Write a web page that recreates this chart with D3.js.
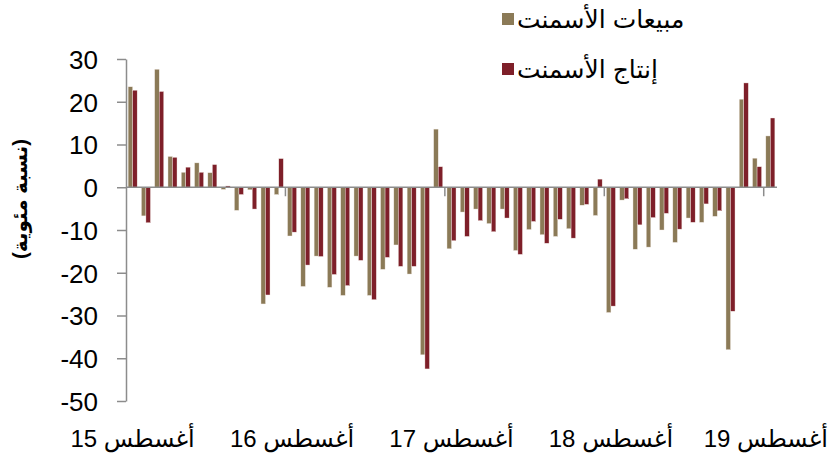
<!DOCTYPE html>
<html>
<head>
<meta http-equiv='Content-Type' content='text/html;charset=utf-8'/>
<title>Cement</title>
<script src='https://d3js.org/d3.v7.min.js'></script>
<style>
  body { margin: 0; background: #fff; }
  text { font-family: 'Liberation Sans', Arial, 'DejaVu Sans', sans-serif; }
</style>
</head>
<body>
<script>
'use strict';
// months Aug 2015 .. Aug 2019
const months = [
  '2015-08','2015-09','2015-10','2015-11','2015-12','2016-01','2016-02','2016-03','2016-04','2016-05','2016-06','2016-07',
  '2016-08','2016-09','2016-10','2016-11','2016-12','2017-01','2017-02','2017-03','2017-04','2017-05','2017-06','2017-07',
  '2017-08','2017-09','2017-10','2017-11','2017-12','2018-01','2018-02','2018-03','2018-04','2018-05','2018-06','2018-07',
  '2018-08','2018-09','2018-10','2018-11','2018-12','2019-01','2019-02','2019-03','2019-04','2019-05','2019-06','2019-07',
  '2019-08'
];
// cement sales, y/y %
const sales = [
  23.5, -6.7, 27.6, 7.2, 3.5, 5.7, 3.4, -0.5, -5.4, -0.6, -27.3, -1.7,
  -11.4, -23.2, -16.1, -23.4, -25.3, -16.1, -25.3, -19.2, -13.5, -20.3, -39.2, 13.6,
  -14.4, -5.8, -5.1, -8.5, -5.1, -14.8, -9.9, -11.1, -11.5, -9.7, -4.2, -6.6,
  -29.3, -3.0, -14.5, -14.0, -10.0, -12.9, -7.2, -8.2, -6.8, -38.0, 20.6, 6.8,
  12.0
];
// cement production, y/y %
const production = [
  22.7, -8.3, 22.4, 7.0, 4.7, 3.5, 5.3, 0.3, -1.7, -5.1, -25.2, 6.7,
  -10.5, -18.2, -16.2, -20.4, -23.0, -17.1, -26.3, -16.4, -18.5, -18.5, -42.5, 4.8,
  -12.5, -11.5, -7.8, -10.4, -7.2, -15.7, -8.0, -13.1, -7.5, -11.9, -4.0, 1.9,
  -27.8, -2.7, -8.8, -7.1, -6.1, -9.8, -8.2, -3.9, -5.5, -29.0, 24.4, 4.8,
  16.2
];
const seriesNames = ['مبيعات الأسمنت', 'إنتاج الأسمنت'];
const xTickMonths = ['2015-08', '2016-08', '2017-08', '2018-08', '2019-08'];
const xTickLabels = ['أغسطس 15', 'أغسطس 16', 'أغسطس 17', 'أغسطس 18', 'أغسطس 19'];
const yTicks = [30, 20, 10, 0, -10, -20, -30, -40, -50];
const yTitle = '(نسبة مئوية)';

const colors = ['#8b7a57', '#7e1f29'];
const width = 829, height = 453;
const plot = {left: 126, right: 777, top: 59, bottom: 401};

const svg = d3.select('body').append('svg')
  .attr('width', width)
  .attr('height', height);

const x = d3.scaleBand()
  .domain(months)
  .range([plot.left, plot.right])
  .paddingInner(0.32)
  .paddingOuter(0.16);

const x1 = d3.scaleBand()
  .domain([0, 1])
  .range([0, x.bandwidth()]);

const y = d3.scaleLinear()
  .domain([-50, 30])
  .range([plot.bottom, plot.top]);

const table = months.map((m, i) => ({ m: m, v: [sales[i], production[i]] }));

// bars
const groups = svg.append('g').selectAll('g')
  .data(table)
  .join('g')
  .attr('transform', d => 'translate(' + x(d.m) + ',0)');

groups.selectAll('rect')
  .data(d => d.v.map((v, k) => ({ k: k, v: v })))
  .join('rect')
  .attr('x', d => x1(d.k))
  .attr('width', x1.bandwidth())
  .attr('y', d => y(Math.max(0, d.v)))
  .attr('height', d => Math.abs(y(d.v) - y(0)))
  .attr('fill', d => colors[d.k])
  .attr('stroke', '#f3ebe6')
  .attr('stroke-width', 0.4);

// y axis
const yAxis = svg.append('g')
  .attr('transform', 'translate(' + plot.left + ',0)')
  .call(d3.axisLeft(y).tickValues(yTicks).tickFormat(d => String(d))
    .tickSize(9).tickSizeOuter(0).tickPadding(19));
yAxis.select('.domain').attr('stroke', '#8c8c8c').attr('stroke-width', 1.5);
yAxis.selectAll('.tick line').attr('stroke', '#8c8c8c').attr('stroke-width', 1.5);
yAxis.selectAll('.tick text')
  .attr('font-size', 26)
  .attr('fill', '#000')
  .attr('dy', '0.36em');

// zero line with yearly ticks
svg.append('line')
  .attr('x1', plot.left).attr('x2', plot.right)
  .attr('y1', y(0)).attr('y2', y(0))
  .attr('stroke', '#8c8c8c')
  .attr('stroke-width', 1.5);

svg.append('g').selectAll('line')
  .data(xTickMonths.slice(1))
  .join('line')
  .attr('x1', d => x(d) - (x.step() - x.bandwidth()) / 2)
  .attr('x2', d => x(d) - (x.step() - x.bandwidth()) / 2)
  .attr('y1', y(0))
  .attr('y2', y(0) + 9)
  .attr('stroke', '#8c8c8c')
  .attr('stroke-width', 1.5);

// x labels
svg.append('g').selectAll('text')
  .data(xTickMonths)
  .join('text')
  .attr('x', d => x(d) + x.bandwidth() / 2)
  .attr('y', 447)
  .attr('text-anchor', 'middle')
  .attr('font-size', 24)
  .attr('fill', '#000')
  .text((d, i) => xTickLabels[i])
  .each(function() {
    // keep the last label inside the picture
    const half = this.getComputedTextLength() / 2;
    const cx = +this.getAttribute('x');
    if (cx + half > width - 1) this.setAttribute('x', width - 1 - half);
  });

// y title
svg.append('text')
  .attr('transform', 'translate(27,199) rotate(-90)')
  .attr('text-anchor', 'middle')
  .attr('direction', 'rtl')
  .attr('font-size', 20)
  .attr('font-weight', 'bold')
  .attr('fill', '#000')
  .text(yTitle);

// legend
const legend = svg.append('g').selectAll('g')
  .data(seriesNames)
  .join('g')
  .attr('transform', (d, i) => 'translate(502,' + (13 + i * 50) + ')');
legend.append('rect')
  .attr('width', 12).attr('height', 12)
  .attr('fill', (d, i) => colors[i]);
legend.append('text')
  .attr('x', 15)
  .attr('y', 15)
  .attr('font-size', 25)
  .attr('fill', '#000')
  .text(d => d);
</script>
</body>
</html>
